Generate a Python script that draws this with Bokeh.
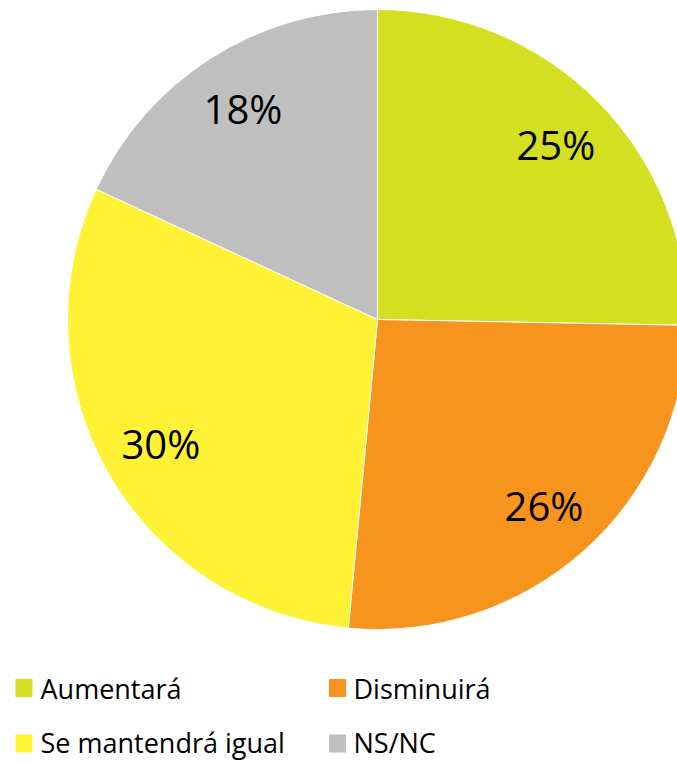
import numpy as np
from bokeh.plotting import figure
from bokeh.models import Range1d, ColumnDataSource
from bokeh.core.properties import value
from bokeh.embed import file_html
from bokeh.resources import INLINE

# ---- data ----
categories = ["Aumentará", "Disminuirá", "Se mantendrá igual", "NS/NC"]
shares = [25.3, 26.2, 30.4, 18.1]
pct_labels = ["25%", "26%", "30%", "18%"]
colors = ["#d5df21", "#f7941d", "#fff133", "#bfbfbf"]

W, H = 677, 762
p = figure(width=W, height=H, x_range=Range1d(0, W), y_range=Range1d(0, H),
           output_backend="svg", toolbar_location=None, min_border=0)
p.axis.visible = False
p.grid.visible = False
p.outline_line_color = None
p.background_fill_color = "white"

cx, cy, R = 377, 443, 310
frac = np.array(shares) / np.sum(shares)
cum_end = np.cumsum(frac) * 2 * np.pi
cum_start = cum_end - frac * 2 * np.pi
start_angle = np.pi / 2 - cum_end
end_angle = np.pi / 2 - cum_start
mid = (cum_start + cum_end) / 2
lr = 0.806 * R

src = ColumnDataSource(dict(
    cat=categories, color=colors, start=start_angle, end=end_angle,
    lab=pct_labels,
    lx=cx + lr * np.sin(mid), ly=cy + lr * np.cos(mid),
))
p.wedge(x=cx, y=cy, radius=R, start_angle="start", end_angle="end",
        fill_color="color", line_color="white", line_width=1, source=src)
p.text(x="lx", y="ly", text="lab", source=src, text_align="center",
       text_baseline="middle", text_font=value("Open Sans"),
       text_font_size="40px", text_color="black")

# ---- legend ----
col = np.arange(4) % 2
row = np.arange(4) // 2
sq_x = np.where(col == 0, 23.5, 337)
sq_y = np.where(row == 0, 762 - 687.5, 762 - 743)
tx = np.where(col == 0, 40, 353)
ty = np.where(row == 0, 762 - 687.5, 762 - 742)
leg = ColumnDataSource(dict(sx=sq_x, sy=sq_y, tx=tx, ty=ty, cat=categories, color=colors))
p.rect(x="sx", y="sy", width=17, height=18, fill_color="color", line_color=None, source=leg)
p.text(x="tx", y="ty", text="cat", source=leg, text_align="left",
       text_baseline="middle", text_font=value("Open Sans"),
       text_font_size="27px", text_color="black")

open("out.html", "w").write(file_html(p, INLINE))
